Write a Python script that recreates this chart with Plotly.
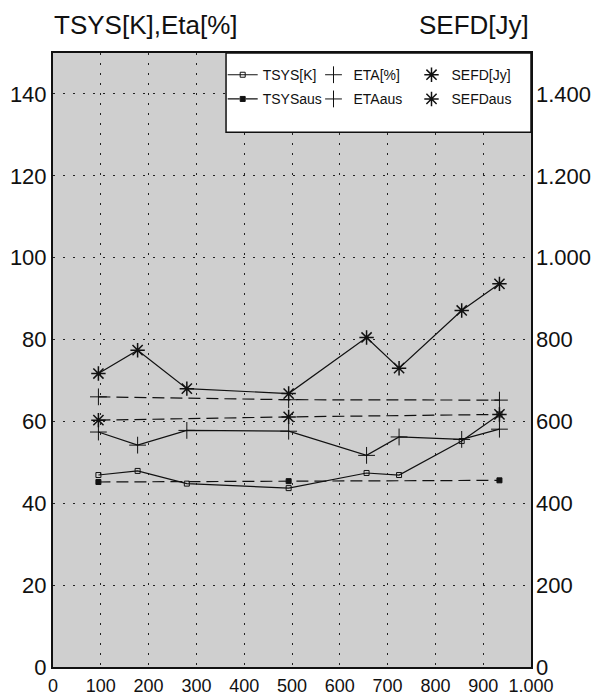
import plotly.graph_objects as go

# ---- data ----
x_freq = [95, 177, 280, 493, 656, 724, 855, 934]
tsys_k = [46.9, 47.9, 44.8, 43.7, 47.4, 46.9, 55.2, 61.7]
eta_pct = [57.4, 54.2, 57.8, 57.6, 51.7, 56.2, 55.6, 58.1]
sefd_jy = [717, 774, 680, 668, 805, 730, 871, 936]

x_aus = [95, 493, 934]
tsys_aus = [45.2, 45.4, 45.6]
eta_aus = [66.0, 65.3, 65.2]
sefd_aus = [603, 611, 617]

left_ticks = [0, 20, 40, 60, 80, 100, 120, 140]
right_ticks = [0, 200, 400, 600, 800, 1000, 1200, 1400]
x_ticks = [0, 100, 200, 300, 400, 500, 600, 700, 800, 900, 1000]

FONT = "Liberation Sans, Arial, Helvetica, sans-serif"
BLACK = "#111111"
SOLID = "solid"
DASHED = "12px,6px"

fig = go.Figure()

def add(name, x, y, symbol, size, dash, legend, group, yaxis="y", mlw=1.0,
        legend_mode="lines+markers"):
    line = dict(color=BLACK, width=1.2, dash=dash)
    marker = dict(symbol=symbol, size=size, color=BLACK,
                  line=dict(color=BLACK, width=mlw))
    # the data trace
    fig.add_trace(go.Scatter(
        x=x, y=y, name=name, mode="lines+markers", yaxis=yaxis,
        line=line, marker=marker, legend=legend, legendgroup=group,
        showlegend=(legend_mode == "lines+markers"),
    ))
    # legend-only sample (marker without line), as in the reference legend
    if legend_mode != "lines+markers":
        fig.add_trace(go.Scatter(
            x=[None], y=[None], name=name, mode=legend_mode, yaxis=yaxis,
            line=line, marker=marker, legend=legend, legendgroup=group,
            showlegend=True, hoverinfo="skip",
        ))

add("TSYS[K]", x_freq, tsys_k, "square-open", 5, SOLID, "legend", "g1")
add("TSYSaus", x_aus, tsys_aus, "square", 5, DASHED, "legend", "g2")
add("ETA[%]", x_freq, eta_pct, "cross-thin-open", 12, SOLID, "legend2", "g3",
    legend_mode="markers")
add("ETAaus", x_aus, eta_aus, "cross-thin-open", 12, DASHED, "legend2", "g4",
    legend_mode="markers")
add("SEFD[Jy]", x_freq, sefd_jy, "asterisk-open", 12, SOLID, "legend3", "g5",
    "y2", 1.5, legend_mode="markers")
add("SEFDaus", x_aus, sefd_aus, "asterisk-open", 12, DASHED, "legend3", "g6",
    "y2", 1.5, legend_mode="markers")

grid = dict(showgrid=True, gridcolor="#222222", gridwidth=1, griddash="2px,8px")

leg = dict(xanchor="left", yanchor="top", bgcolor="rgba(0,0,0,0)", borderwidth=0,
           tracegroupgap=3, itemwidth=30, font=dict(size=14))

# the page has an 8px body margin, so the figure is 8px smaller than the window
fig.update_layout(
    width=592, height=690,
    margin=dict(l=45, r=69, t=45, b=31, autoexpand=False),
    paper_bgcolor="white",
    plot_bgcolor="#cfcfcf",
    separators=",.",
    font=dict(family=FONT, color=BLACK),
    xaxis=dict(range=[0, 1000], tickvals=x_ticks, tickformat=",d", automargin=False,
               tickfont=dict(size=18), ticks="", ticklabelstandoff=1,
               showline=True, linecolor=BLACK, linewidth=2, mirror=True,
               zeroline=False, **grid),
    yaxis=dict(range=[0, 150], tickvals=left_ticks, automargin=False,
               tickfont=dict(size=22), ticks="", ticklabelstandoff=0,
               showline=True, linecolor=BLACK, linewidth=2, mirror=True,
               zeroline=False, **grid),
    yaxis2=dict(range=[0, 1500], tickvals=right_ticks, tickformat=",d", automargin=False,
                overlaying="y", side="right", showgrid=False, zeroline=False,
                tickfont=dict(size=22), ticks="", ticklabelstandoff=4),
    showlegend=True,
    legend=dict(x=0.355, y=0.99, **leg),
    legend2=dict(x=0.545, y=0.99, **leg),
    legend3=dict(x=0.75, y=0.99, **leg),
    shapes=[dict(type="rect", xref="paper", yref="paper",
                 x0=0.362, x1=1.0, y0=0.871, y1=1.0,
                 fillcolor="white", line=dict(color=BLACK, width=1.5),
                 layer="above")],
    annotations=[
        dict(text="TSYS[K],Eta[%]", xref="paper", yref="paper", x=-0.002, y=1.046,
             xanchor="left", yanchor="middle", showarrow=False,
             font=dict(size=26, family=FONT, color=BLACK)),
        dict(text="SEFD[Jy]", xref="paper", yref="paper", x=1.0, y=1.046,
             xanchor="right", yanchor="middle", showarrow=False,
             font=dict(size=26, family=FONT, color=BLACK)),
    ],
)

fig.write_html("out.html")
